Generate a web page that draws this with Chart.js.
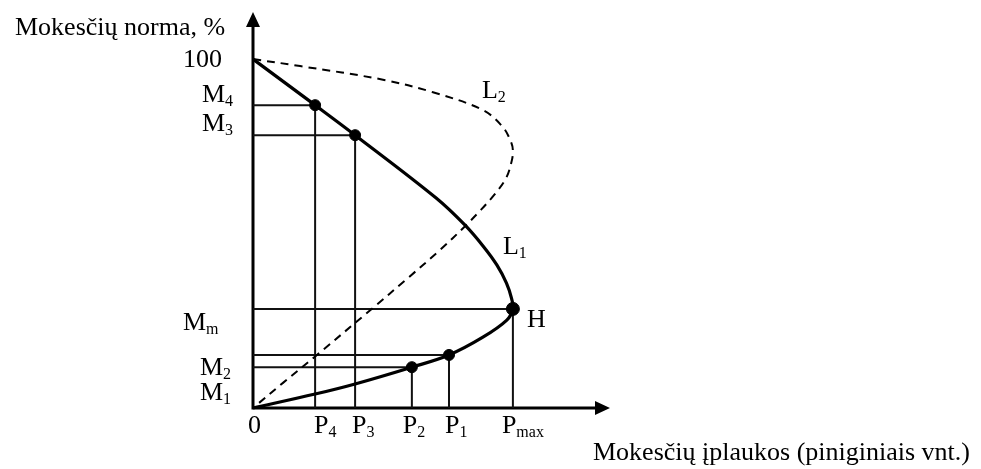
<!DOCTYPE html>
<html>
<head>
<meta charset="utf-8">
<script src="https://cdn.jsdelivr.net/npm/chart.js@4.4.1/dist/chart.umd.min.js"></script>
<style>
  body { margin: 0; background: #fff; }
</style>
</head>
<body>
<canvas id="laffer" width="981" height="469"></canvas>
<script>
// axis titles
const yTitle = 'Mokesčių norma, %';
const xTitle = 'Mokesčių įplaukos (piniginiais vnt.)';

// marked points on L1 (revenue P, tax rate M)
const revenueLabels = ['P_4', 'P_3', 'P_2', 'P_1', 'P_max'];
const rateLabels = ['M_4', 'M_3', 'M_1', 'M_2', 'M_m'];
const dotRevenue = [17.4, 28.6, 44.5, 54.9, 72.8];
const dotRate = [86.8, 78.2, 11.7, 15.2, 28.4];

// L1 curve (solid), from the origin round H back up to 100 %
const l1Revenue = [0, 17.4, 28.6, 44.5, 54.9, 64.4, 71.1, 72.8, 72.4, 71.0, 68.3, 64.7, 59.4, 51.3, 28.6, 17.4, 0];
const l1Rate = [0, 4.0, 6.9, 11.7, 15.2, 20.3, 25.2, 28.4, 31.5, 35.8, 41.0, 46.1, 52.4, 60.2, 78.2, 86.8, 100];

// L2 curve (dashed)
const l2Revenue = [0, 13.2, 36.4, 50.4, 64.4, 70.0, 72.4, 72.8, 72.4, 70.9, 67.5, 63.3, 59.4, 52.4, 43.1, 33.6, 17.9, 8.4, 0];
const l2Rate = [100, 98.0, 94.1, 90.5, 85.4, 80.5, 75.9, 73.4, 70.5, 65.9, 61.0, 56.2, 52.1, 45.3, 37.0, 28.7, 15.2, 7.2, 0];

const curveNames = ['L_1', 'L_2'];
const pointName = 'H';

const toPoints = (xs, ys) => xs.map((v, i) => ({ x: v, y: ys[i] }));

function drawSub(ctx, text, x, y) {
  const parts = text.split('_');
  ctx.font = '26px "Liberation Serif"';
  ctx.fillText(parts[0], x, y);
  if (parts[1]) {
    const w = ctx.measureText(parts[0]).width;
    ctx.font = '16px "Liberation Serif"';
    ctx.fillText(parts[1], x + w, y + 4);
  }
}

// label offsets in px from the data position they belong to
const rateLabelOffsets = [[-51, -3], [-51, -4], [-53, 33], [-53, 20], [-70, 21]];
const revenueLabelOffsets = [-1, -3, -9, -4, -11];

const sketch = {
  id: 'sketch',
  beforeDatasetsDraw(chart) {
    const { ctx, scales: { x, y } } = chart;
    const x0 = x.getPixelForValue(0), y0 = y.getPixelForValue(0);
    const xEnd = x.getPixelForValue(x.max), yEnd = y.getPixelForValue(y.max);
    ctx.save();
    ctx.strokeStyle = '#000';
    ctx.lineWidth = 3;
    ctx.beginPath();
    ctx.moveTo(x0, y0 + 1.5);
    ctx.lineTo(x0, yEnd + 12);
    ctx.moveTo(x0 - 1.5, y0);
    ctx.lineTo(xEnd - 12, y0);
    ctx.stroke();
    ctx.fillStyle = '#000';
    ctx.beginPath();
    ctx.moveTo(x0, yEnd);
    ctx.lineTo(x0 - 7, yEnd + 15);
    ctx.lineTo(x0 + 7, yEnd + 15);
    ctx.closePath();
    ctx.moveTo(xEnd, y0);
    ctx.lineTo(xEnd - 15, y0 - 7);
    ctx.lineTo(xEnd - 15, y0 + 7);
    ctx.closePath();
    ctx.fill();
    ctx.restore();
  },
  afterDatasetsDraw(chart) {
    const { ctx, scales: { x, y } } = chart;
    const x0 = x.getPixelForValue(0), y0 = y.getPixelForValue(0);
    ctx.save();
    ctx.fillStyle = '#000';
    ctx.textBaseline = 'alphabetic';
    ctx.textAlign = 'left';

    ctx.font = '26px "Liberation Serif"';
    ctx.fillText(yTitle, 15, 35);
    ctx.fillText(xTitle, 593, 460);
    ctx.fillText('100', x0 - 70, y.getPixelForValue(100) + 8);
    ctx.fillText('0', x0 - 5, y0 + 25);

    rateLabels.forEach((t, i) => {
      const o = rateLabelOffsets[i];
      drawSub(ctx, t, x0 + o[0], y.getPixelForValue(dotRate[i]) + o[1]);
    });
    revenueLabels.forEach((t, i) => {
      drawSub(ctx, t, x.getPixelForValue(dotRevenue[i]) + revenueLabelOffsets[i], y0 + 25);
    });

    const hx = x.getPixelForValue(dotRevenue[4]), hy = y.getPixelForValue(dotRate[4]);
    ctx.font = '26px "Liberation Serif"';
    ctx.fillText(pointName, hx + 14, hy + 18);

    // L1 right of its flank, L2 above the top of the dashed loop
    drawSub(ctx, curveNames[0], x.getPixelForValue(l1Revenue[11]) + 19, y.getPixelForValue(l1Rate[11]) + 7);
    drawSub(ctx, curveNames[1], x.getPixelForValue(l2Revenue[4]) - 1, y.getPixelForValue(l2Rate[4]) - 12);
    ctx.restore();
  }
};

const guides = [];
dotRevenue.forEach((p, i) => {
  const m = dotRate[i];
  guides.push({ data: [{ x: 0, y: m }, { x: p, y: m }] });
  guides.push({ data: [{ x: p, y: m }, { x: p, y: 0 }] });
});

const datasets = [
  {
    label: 'dots',
    data: toPoints(dotRevenue, dotRate),
    showLine: false,
    pointRadius: [5.5, 5.5, 5.5, 5.5, 6.5],
    pointBackgroundColor: '#000',
    pointBorderColor: '#000',
    order: 0
  },
  {
    label: 'L1',
    data: toPoints(l1Revenue, l1Rate),
    showLine: true,
    borderColor: '#000',
    borderWidth: 3.2,
    tension: 0.35,
    pointRadius: 0,
    order: 1
  },
  {
    label: 'L2',
    data: toPoints(l2Revenue, l2Rate),
    showLine: true,
    borderColor: '#000',
    borderWidth: 2,
    borderDash: [8, 6],
    tension: 0.35,
    pointRadius: 0,
    order: 2
  }
].concat(guides.map((g, i) => ({
  label: 'guide' + i,
  data: g.data,
  showLine: true,
  borderColor: '#111',
  borderWidth: 2,
  tension: 0,
  pointRadius: 0,
  order: 3
})));

datasets.forEach(d => { d.clip = false; });

new Chart(document.getElementById('laffer'), {
  type: 'scatter',
  data: { datasets: datasets },
  plugins: [sketch],
  options: {
    responsive: false,
    animation: false,
    events: [],
    layout: { padding: { left: 253, right: 371, top: 12, bottom: 61 } },
    scales: {
      x: { type: 'linear', min: 0, max: 100, display: false },
      y: { type: 'linear', min: 0, max: 113.5, display: false }
    },
    plugins: {
      legend: { display: false },
      tooltip: { enabled: false }
    }
  }
});
</script>
</body>
</html>
